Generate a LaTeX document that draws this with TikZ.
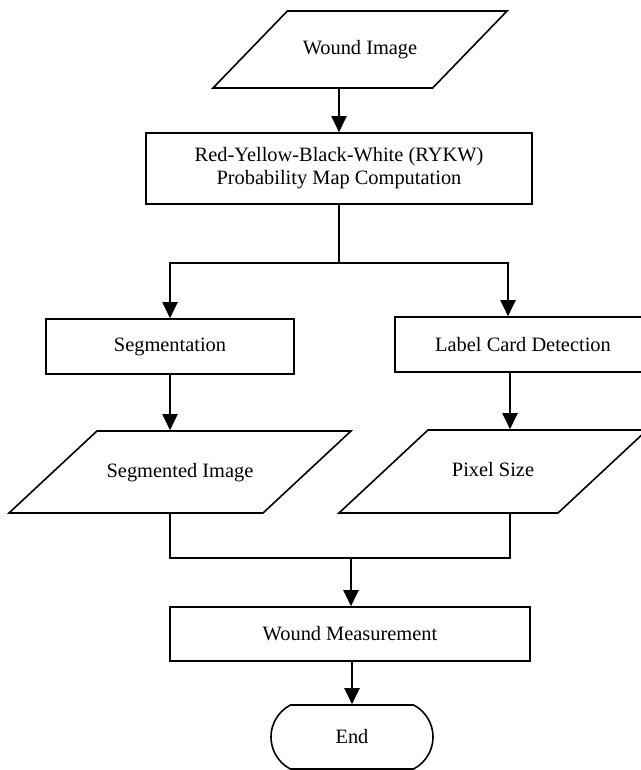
\documentclass[tikz,border=0pt]{standalone}
\usepackage{fontspec}
\setmainfont{Liberation Serif}
\usetikzlibrary{arrows.meta,shapes.geometric,shapes.misc}

\begin{document}
\begin{tikzpicture}[x=0.5pt,y=-0.5pt,>={Triangle[length=8pt,width=7.5pt]},
  font=\fontsize{10.2pt}{11.5pt}\selectfont]
  \tikzset{box/.style={draw,line width=0.8pt,align=center,inner sep=2pt},
    process/.style={box,rectangle},
    io/.style 2 args={box,trapezium,trapezium left angle=#1,trapezium right angle=#2,
      trapezium stretches body,text height=7pt,text depth=2pt},
    terminal/.style={box,rounded rectangle,rounded rectangle arc length=125},
    flow/.style={->,line width=1pt},
    link/.style={line width=0.8pt}}
  \useasboundingbox (0,0) rectangle (641,770);
  \node[io={46}{134},minimum width=147pt,inner ysep=14.75pt] (wound) at (360,49.5) {Wound Image};
  \node[process,minimum width=193pt,minimum height=35.5pt] (rykw) at (339,168.5) {Red-Yellow-Black-White (RYKW)\\Probability Map Computation};
  \node[process,minimum width=124pt,minimum height=27.5pt] (seg) at (170,346.5) {Segmentation};
  \node[process,minimum width=128pt,minimum height=27.5pt] (card) at (523,344.5) {Label Card Detection};
  \node[io={43}{137},minimum width=171pt,inner ysep=16pt] (segimg) at (180,472) {Segmented Image};
  \node[io={43}{137},minimum width=154pt,inner ysep=16.25pt] (pixel) at (493,471.5) {Pixel Size};
  \node[process,minimum width=180pt,minimum height=27pt] (measure) at (350,634) {Wound Measurement};
  \node[terminal,minimum width=85pt,minimum height=32pt] (end) at (352,737) {End};
  % branch and merge points
  \coordinate (split) at (339,263);
  \coordinate (join) at (351,558);
  \coordinate (cardin) at ([xshift=-7.5pt]card.north);
  \coordinate (cardout) at ([xshift=-6.5pt]card.south);
  \draw[flow] (wound.south -| rykw.north) -- (rykw.north);
  \draw[link] (rykw.south) -- (split);
  \draw[flow] (split) -| (seg.north);
  \draw[flow] (split) -| (cardin);
  \draw[flow] (seg.south) -- (seg.south |- segimg.north);
  \draw[flow] (cardout) -- (cardout |- pixel.north);
  \draw[link] (segimg.south -| seg.south) |- (join);
  \draw[link] (pixel.south -| cardout) |- (join);
  \draw[flow] (join) -- (join |- measure.north);
  \draw[flow] (measure.south -| end.north) -- (end.north);
\end{tikzpicture}
\end{document}
